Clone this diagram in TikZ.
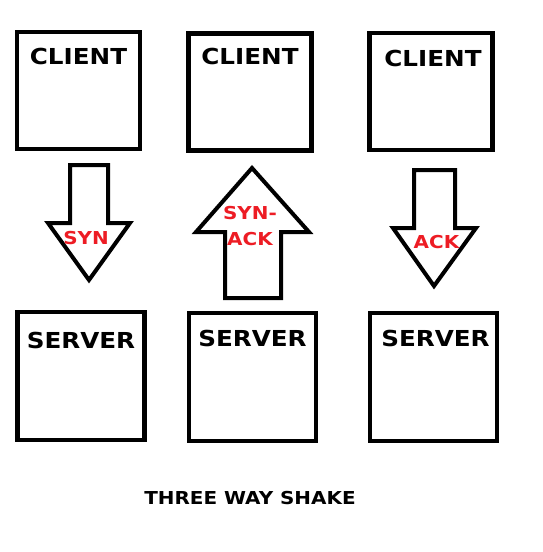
\documentclass[tikz,border=0pt]{standalone}
\usepackage{fontspec}
\newfontfamily\shakefont[FakeStretch=1.12]{DejaVu Sans Bold}
\usetikzlibrary{positioning}
\definecolor{paint red}{RGB}{237,28,36}
\colorlet{outline colour}{black}
\colorlet{flag colour}{paint red}
\tikzset{
    % Heavy outlines, as if drawn with a wide brush
    box/.style={
        draw=outline colour, line width=4.5pt, rectangle, inner sep=0},
    client box/.style={box, minimum width=123pt, minimum height=117pt},
    server box/.style={box, minimum width=127pt, minimum height=128pt},
%
    % Texts
    box title/.style={
        font=\shakefont\fontsize{22}{22}\selectfont, inner sep=0},
    flag/.style={
        font=\shakefont\fontsize{17.8}{26}\selectfont, text=flag colour,
        inner sep=0, align=center},
    caption/.style={
        font=\shakefont\fontsize{17.8}{18}\selectfont, inner sep=0},
%
    block arrow/.style={
        draw=outline colour, line width=4pt, line join=miter},
}

\begin{document}
\begin{tikzpicture}[x=1pt, y=-1pt]
    \useasboundingbox (0,0) rectangle (542,552);

    % The two rows of boxes
    \path
        (78.5,90.5) node [client box] (client one) {}
        (250,92) node [client box] (client two) {}
        (431,91.5) node [client box] (client three) {}
        (81,376) node [server box] (server one) {}
        (252.5,377) node [server box] (server two) {}
        (433.5,377) node [server box] (server three) {};

    \node [box title, below=18pt of client one.north] {CLIENT};
    \node [box title, below=17pt of client two.north] {CLIENT};
    \node [box title, below=19pt of client three.north, xshift=2pt] {CLIENT};
    \node [box title, below=22pt of server one.north] {SERVER};
    \node [box title, below=19pt of server two.north] {SERVER};
    \node [box title, below=19pt of server three.north, xshift=2pt] {SERVER};

    % The three messages
    \draw [block arrow] (70,165) -- (108,165) -- (108,223) -- (130,223)
        -- (89,280) -- (48,223) -- (70,223) -- cycle;
    \draw [block arrow] (225,298) -- (281,298) -- (281,232) -- (309,232)
        -- (252,168) -- (196,232) -- (225,232) -- cycle;
    \draw [block arrow] (414,170) -- (455,170) -- (455,228) -- (476,228)
        -- (434,286) -- (393,228) -- (414,228) -- cycle;

    \node [flag] (syn) at (86,238.5) {SYN};
    \node [flag] (syn ack) at (250,226) {SYN-\\ACK};
    \node [flag] (ack) at (436.5,242.5) {ACK};

    \node [caption] (title) at (250,498.5) {THREE WAY SHAKE};
\end{tikzpicture}
\end{document}
